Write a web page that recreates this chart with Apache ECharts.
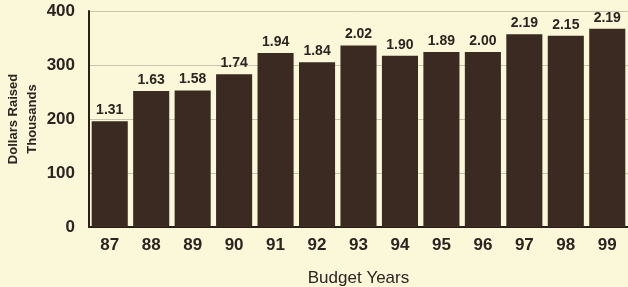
<!DOCTYPE html>
<html><head><meta charset="utf-8">
<script src="https://cdn.jsdelivr.net/npm/echarts@6/dist/echarts.min.js"></script>
<style>html,body{margin:0;padding:0;background:#FBF8DA;}#c{width:628px;height:287px;}</style>
</head><body><div id="c"></div>
<script>
var years = ['87','88','89','90','91','92','93','94','95','96','97','98','99'];
var raised = [196, 252, 253, 283, 322, 305, 336, 317, 324, 324, 357, 354, 367];
var ratios = ['1.31','1.63','1.58','1.74','1.94','1.84','2.02','1.90','1.89','2.00','2.19','2.15','2.19'];
var yTicks = [0, 100, 200, 300, 400];

var chart = echarts.init(document.getElementById('c'));
chart.setOption({
  backgroundColor: '#FBF8DA',
  animation: false,
  grid: {left: 89, right: 0, top: 11, bottom: 60, outerBoundsMode: 'none', containLabel: false},
  xAxis: {
    type: 'category', data: years,
    axisLine: {show: true, lineStyle: {color: '#2b1f19', width: 2}},
    axisTick: {show: false},
    axisLabel: {color: '#2b2420', fontFamily: 'Liberation Sans', fontWeight: 'bold', fontSize: 17, margin: 10},
    name: 'Budget Years', nameLocation: 'middle', nameGap: 43,
    nameTextStyle: {color: '#2b2420', fontFamily: 'Liberation Sans', fontSize: 17}
  },
  yAxis: {
    type: 'value', min: yTicks[0], max: yTicks[yTicks.length-1], interval: 100,
    axisLine: {show: true, lineStyle: {color: '#2b1f19', width: 2}},
    axisTick: {show: false},
    splitLine: {show: true, lineStyle: {color: '#c9c4ae', width: 1}},
    axisLabel: {color: '#2b2420', fontFamily: 'Liberation Sans', fontWeight: 'bold', fontSize: 17, margin: 14},
    name: 'Dollars Raised\nThousands', nameLocation: 'middle', nameRotate: 90, nameGap: 47,
    nameMoveOverlap: false,
    nameTextStyle: {color: '#2b2420', fontFamily: 'Liberation Sans', fontWeight: 'bold', fontSize: 13, lineHeight: 19}
  },
  series: [{
    type: 'bar', data: raised, barCategoryGap: '13%',
    itemStyle: {color: '#3a2a22'},
    label: {
      show: true, position: 'top', distance: 4,
      formatter: function(p){ return ratios[p.dataIndex]; },
      color: '#2b2420', fontFamily: 'Liberation Sans', fontWeight: 'bold', fontSize: 14
    }
  }]
});
</script></body></html>
